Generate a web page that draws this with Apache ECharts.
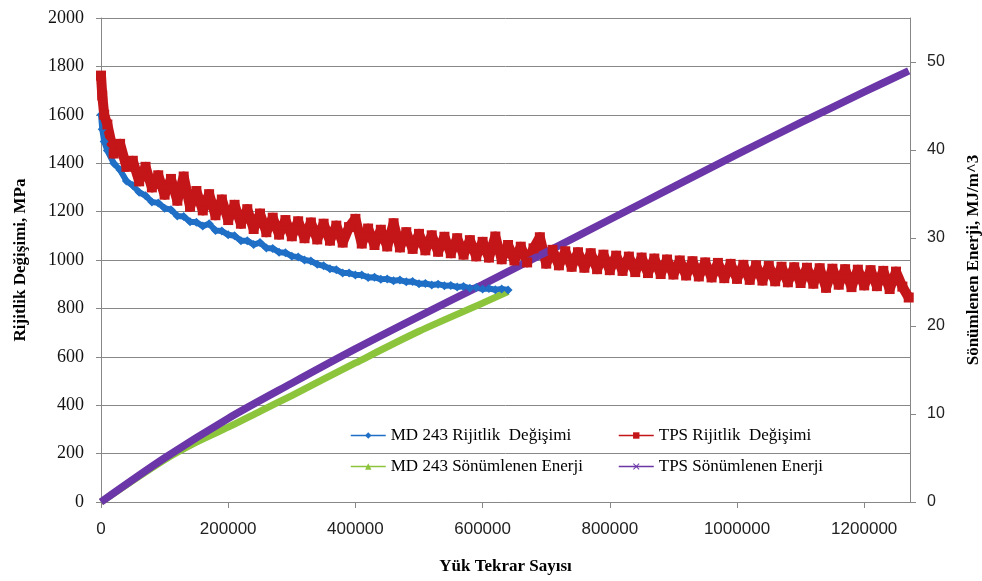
<!DOCTYPE html>
<html><head><meta charset="utf-8">
<script src="https://cdn.jsdelivr.net/npm/echarts@6/dist/echarts.min.js"></script>
<style>html,body{margin:0;padding:0;background:#fff}#c{width:982px;height:581px}</style>
</head><body><div id="c"></div>
<script>
// Load repetitions (x values shared by the stiffness series)
const cycles = [0, 2000, 5000,
  10000, 20000, 30000, 40000, 50000, 60000, 70000, 80000, 90000, 100000,
  110000, 120000, 130000, 140000, 150000, 160000, 170000, 180000, 190000, 200000,
  210000, 220000, 230000, 240000, 250000, 260000, 270000, 280000, 290000, 300000,
  310000, 320000, 330000, 340000, 350000, 360000, 370000, 380000, 390000, 400000,
  410000, 420000, 430000, 440000, 450000, 460000, 470000, 480000, 490000, 500000,
  510000, 520000, 530000, 540000, 550000, 560000, 570000, 580000, 590000, 600000,
  610000, 620000, 630000, 640000, 650000, 660000, 670000, 680000, 690000, 700000,
  710000, 720000, 730000, 740000, 750000, 760000, 770000, 780000, 790000, 800000,
  810000, 820000, 830000, 840000, 850000, 860000, 870000, 880000, 890000, 900000,
  910000, 920000, 930000, 940000, 950000, 960000, 970000, 980000, 990000, 1000000,
  1010000, 1020000, 1030000, 1040000, 1050000, 1060000, 1070000, 1080000, 1090000, 1100000,
  1110000, 1120000, 1130000, 1140000, 1150000, 1160000, 1170000, 1180000, 1190000, 1200000,
  1210000, 1220000, 1230000, 1240000, 1250000, 1260000, 1270000];

// MD 243 stiffness (MPa), cycles 0 .. 640000
const mdStiffness = [1600, 1540, 1490,
  1452, 1400, 1372, 1326, 1308, 1280, 1266, 1240, 1236, 1214,
  1208, 1182, 1180, 1158, 1156, 1140, 1150, 1122, 1120, 1104,
  1100, 1080, 1080, 1064, 1072, 1050, 1048, 1032, 1030, 1016,
  1012, 1000, 996, 982, 976, 964, 960, 946, 946, 938,
  938, 928, 929, 920, 922, 914, 917, 910, 911, 902,
  903, 897, 900, 894, 895, 888, 891, 883, 886, 880,
  882, 877, 880, 876];

// TPS stiffness (MPa), cycles 0 .. 1270000 (upper / lower edge of the scattered band)
const tpsStiffness = [1762, 1680, 1600,
  1560, 1440, 1480, 1385, 1410, 1325, 1385, 1300, 1350, 1270,
  1335, 1245, 1345, 1220, 1285, 1205, 1272, 1185, 1250, 1165,
  1228, 1150, 1210, 1128, 1192, 1115, 1175, 1105, 1165, 1098,
  1160, 1090, 1155, 1085, 1150, 1080, 1142, 1072, 1136, 1170,
  1068, 1130, 1062, 1125, 1056, 1152, 1052, 1115, 1046, 1108,
  1040, 1102, 1034, 1096, 1028, 1090, 1022, 1082, 1015, 1075,
  1010, 1097, 1003, 1062, 998, 1055, 990, 1048, 1094, 985,
  1042, 978, 1036, 972, 1032, 968, 1028, 962, 1022, 958,
  1018, 955, 1014, 950, 1010, 946, 1006, 942, 1002, 940,
  998, 936, 995, 932, 990, 928, 988, 925, 984, 922,
  980, 918, 978, 915, 975, 912, 972, 908, 970, 905,
  968, 902, 966, 885, 964, 898, 962, 888, 960, 895,
  958, 892, 955, 880, 952, 890, 845];

// Dissipated energy (MJ/m^3)
const mdEnergyCycles = [0, 100000, 150000, 200000, 250000, 300000, 400000, 500000, 600000, 640000];
const mdEnergy = [0, 4.8, 6.8, 8.5, 10.3, 12.1, 15.8, 19.4, 22.6, 23.9];
const tpsEnergyCycles = [0, 100000, 200000, 300000, 400000, 500000, 600000, 700000, 800000, 900000, 1000000, 1100000, 1200000, 1270000];
const tpsEnergy = [0, 5.0, 9.5, 13.5, 17.4, 21.1, 24.7, 28.4, 32.1, 35.8, 39.5, 43.1, 46.6, 49.0];

// Tick labels
const xTicks = [0, 200000, 400000, 600000, 800000, 1000000, 1200000];
const rightTicks = [0, 10, 20, 30, 40, 50];

const names = ['MD 243 Rijitlik  Değişimi', 'TPS Rijitlik  Değişimi', 'MD 243 Sönümlenen Enerji', 'TPS Sönümlenen Enerji'];
const colors = ['#1f6fc6', '#c41519', '#8cc43c', '#6b36a8'];
const crossPath = 'path://M0,1L1,0L5,4L9,0L10,1L6,5L10,9L9,10L5,6L1,10L0,9L4,5Z';

const pair = (xs, ys) => ys.map((v, i) => [xs[i], v]);
const gray = '#878787';
const serif = 'Liberation Serif';
const sans = 'Liberation Sans';
const plain = v => String(v);

const legendBase = {
  orient: 'vertical', top: 422, itemGap: 14, itemWidth: 35, itemHeight: 8,
  textStyle: { fontFamily: serif, fontSize: 17, color: '#000' },
  lineStyle: { width: 1.5 }, itemStyle: { borderWidth: 0 }
};

const chart = echarts.init(document.getElementById('c'));
chart.setOption({
  animation: false,
  backgroundColor: '#fff',
  grid: { left: 101, right: 72, top: 18, bottom: 79, containLabel: false, outerBoundsMode: 'none' },
  legend: [
    Object.assign({}, legendBase, { left: 345, data: [names[0], names[2]] }),
    Object.assign({}, legendBase, { left: 613, data: [names[1], names[3]] })
  ],
  xAxis: {
    type: 'value', min: 0, max: 1272000,
    name: 'Yük Tekrar Sayısı', nameLocation: 'middle', nameGap: 56,
    nameTextStyle: { fontFamily: serif, fontWeight: 'bold', fontSize: 17, color: '#000' },
    axisLine: { show: true, lineStyle: { color: gray } },
    axisTick: { show: true, length: 6, lineStyle: { color: gray }, customValues: xTicks },
    axisLabel: { customValues: xTicks, margin: 19, fontFamily: sans, fontSize: 17, color: '#222', formatter: plain },
    splitLine: { show: false }
  },
  yAxis: [{
    type: 'value', min: 0, max: 2000, interval: 200,
    name: 'Rijitlik Değişimi, MPa', nameLocation: 'middle', nameGap: 72, nameRotate: 90,
    nameTextStyle: { fontFamily: serif, fontWeight: 'bold', fontSize: 17, color: '#000' },
    axisLine: { show: true, lineStyle: { color: gray } },
    axisTick: { show: true, length: 5, lineStyle: { color: gray } },
    axisLabel: { margin: 17, fontFamily: serif, fontSize: 18, color: '#111', formatter: plain },
    splitLine: { show: true, lineStyle: { color: gray, width: 1 } }
  }, {
    type: 'value', min: 0, max: 55, position: 'right',
    name: 'Sönümlenen Enerji, MJ/m^3', nameLocation: 'middle', nameGap: 55, nameRotate: 90,
    nameTextStyle: { fontFamily: serif, fontWeight: 'bold', fontSize: 17, color: '#000' },
    axisLine: { show: true, lineStyle: { color: gray } },
    axisTick: { show: true, length: 6, lineStyle: { color: gray }, customValues: rightTicks },
    axisLabel: { customValues: rightTicks, margin: 17, fontFamily: sans, fontSize: 16, color: '#222', formatter: plain },
    splitLine: { show: false }
  }],
  series: [{
    name: names[0], type: 'line', yAxisIndex: 0,
    data: pair(cycles, mdStiffness),
    symbol: 'diamond', symbolSize: 9, showAllSymbol: true,
    lineStyle: { color: colors[0], width: 6, join: 'round' }, itemStyle: { color: colors[0] }
  }, {
    name: names[1], type: 'line', yAxisIndex: 0,
    data: pair(cycles, tpsStiffness),
    symbol: 'rect', symbolSize: 10, showAllSymbol: true,
    lineStyle: { color: colors[1], width: 10, join: 'round' }, itemStyle: { color: colors[1] }
  }, {
    name: names[2], type: 'line', yAxisIndex: 1,
    data: pair(mdEnergyCycles, mdEnergy),
    symbol: 'triangle', showSymbol: false, smooth: 0.3,
    lineStyle: { color: colors[2], width: 7 }, itemStyle: { color: colors[2] }
  }, {
    name: names[3], type: 'line', yAxisIndex: 1,
    data: pair(tpsEnergyCycles, tpsEnergy),
    symbol: crossPath, showSymbol: false, smooth: 0.3,
    lineStyle: { color: colors[3], width: 7.5 }, itemStyle: { color: colors[3] }
  }]
});
</script>
</body></html>
